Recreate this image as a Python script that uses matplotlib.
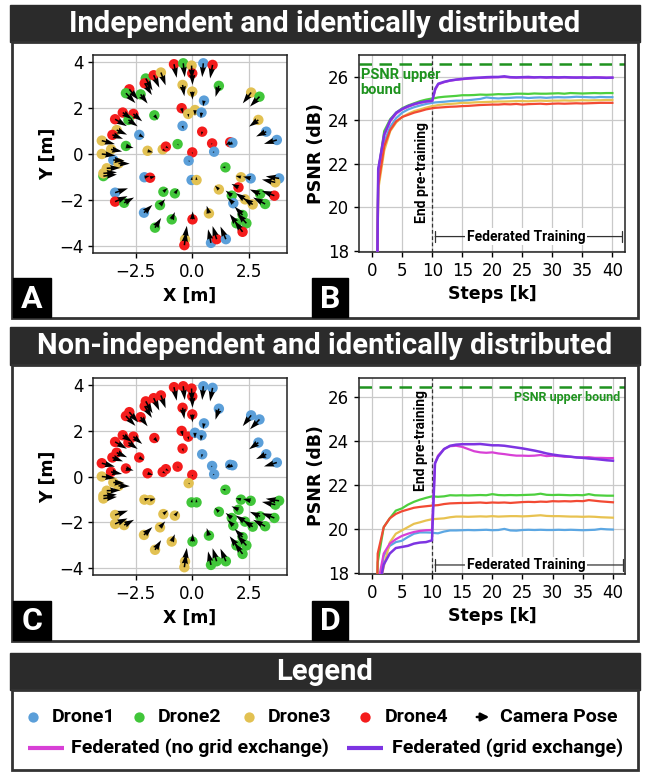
import matplotlib
matplotlib.use('Agg')
import matplotlib.pyplot as plt
from matplotlib.patches import Rectangle

W, H = 649, 772

# ---------------- camera poses (same positions in both splits) ----------------
cam_x = [-0.81, -0.40, -0.03, 0.00, 0.49, 0.90, 1.18, -0.43, 0.00, 0.52,
         -2.06, -2.11, -1.71, -1.39, -2.79, -2.94, -2.29,
         -3.42, -3.08, -2.61, -2.83, -3.35, -3.54, -4.01, -4.01, -3.60, -3.50,
         -3.27, -3.79, -3.94, -3.94, -2.94,
         -1.68, -2.35, -1.98, -1.31, -1.17, -0.65, -0.47, -0.18, 0.12, 0.41,
         -0.43, 0.44, 0.88, 0.97, 1.68, 1.78, 0.00, -0.16, -0.03, 0.19, 1.47,
         -2.12, -1.87, -3.42, -3.42, -3.02, -1.28, -0.77, -1.43, -2.14, -1.65, -0.91,
         0.01, 0.74, -0.32, -0.35, 0.83, 1.08, 1.49,
         1.18, 2.05, 1.75, 1.82, 2.16, 2.59, 2.34, 2.68, 3.01, 3.23, 3.64, 3.85,
         3.68, 2.23, 2.40, 2.23, 1.96,
         2.61, 2.98, 2.93, 3.28, 3.75]
cam_y = [3.90, 3.94, 3.84, 3.50, 3.94, 3.87, 2.96, 3.00, 2.71, 2.32,
         3.28, 3.07, 3.42, 3.54, 2.81, 2.64, 2.59,
         1.51, 1.80, 1.74, 1.48, 1.04, 0.83, 0.58, 0.00, 0.20, -0.26,
         -0.41, -0.62, -0.96, -0.84, 0.35,
         1.68, 0.83, 0.14, 0.20, 0.32, 0.43, 1.99, 1.74, 1.91, 1.80,
         1.22, 0.97, 0.46, 0.10, 0.51, 0.49, 0.07, -0.29, -1.13, -1.13, -0.58,
         -1.01, -1.03, -1.68, -2.07, -2.12, -1.64, -1.71, -2.22, -2.55, -3.20, -2.84,
         -2.84, -2.58, -3.71, -3.96, -3.86, -3.70, -3.70,
         -1.54, -1.45, -1.81, -2.14, -1.01, -1.06, -1.97, -2.19, -1.74, -2.17, -1.81, -1.06,
         -1.23, -2.65, -3.01, -3.38, -3.01,
         2.67, 2.49, 1.48, 0.97, 0.61]
cam_u = [0.12, 0.07, 0.02, 0.01, -0.05, -0.11, -0.15, 0.08, 0.01, -0.04,
         0.30, 0.32, 0.25, 0.21, 0.39, 0.42, 0.31,
         0.52, 0.41, 0.39, 0.41, 0.46, 0.47, 0.58, 0.60, 0.49, 0.50,
         0.50, 0.60, 0.60, 0.60, 0.34,
         0.16, 0.22, 0.24, 0.13, 0.13, 0.05, 0.06, 0.02, 0.00, -0.03,
         0.04, -0.03, -0.05, -0.07, -0.21, -0.21, 0.01, 0.06, 0.03, -0.02, -0.15,
         0.24, 0.24, 0.57, 0.55, 0.44, 0.19, 0.15, 0.23, 0.37, 0.27, 0.14,
         0.01, -0.10, 0.08, 0.08, -0.13, -0.18, -0.24,
         -0.18, -0.31, -0.27, -0.25, -0.24, -0.34, -0.42, -0.42, -0.46, -0.53, -0.56, -0.59,
         -0.59, -0.35, -0.41, -0.36, -0.30,
         -0.37, -0.42, -0.41, -0.45, -0.57]
cam_v = [-0.59, -0.60, -0.60, -0.50, -0.60, -0.59, -0.48, -0.49, -0.35, -0.25,
         -0.52, -0.51, -0.54, -0.56, -0.45, -0.43, -0.40,
         -0.30, -0.29, -0.32, -0.28, -0.20, -0.17, -0.15, -0.07, -0.09, -0.03,
         -0.01, 0.02, 0.07, 0.05, -0.09,
         -0.19, -0.12, -0.07, -0.07, -0.08, -0.06, -0.24, -0.15, -0.25, -0.25,
         -0.14, -0.15, -0.06, -0.05, -0.13, -0.12, -0.08, -0.05, 0.15, 0.15, 0.01,
         0.06, 0.06, 0.19, 0.24, 0.23, 0.16, 0.20, 0.26, 0.34, 0.42, 0.32,
         0.35, 0.33, 0.59, 0.59, 0.59, 0.57, 0.55,
         0.17, 0.15, 0.22, 0.24, 0.06, 0.08, 0.27, 0.27, 0.20, 0.28, 0.21, 0.09,
         0.12, 0.36, 0.44, 0.48, 0.40,
         -0.47, -0.43, -0.29, -0.21, -0.17]
drone_iid = [4, 2, 3, 4, 1, 4, 2, 3, 3, 1,
             2, 4, 4, 3, 4, 2, 2,
             4, 4, 4, 2, 3, 4, 3, 3, 3, 1,
             3, 3, 2, 3, 2,
             2, 1, 3, 3, 4, 2, 4, 3, 3, 1,
             1, 4, 4, 1, 4, 1, 4, 1, 1, 3, 2,
             1, 4, 1, 4, 2, 2, 2, 2, 1, 2, 2,
             4, 3, 3, 4, 1, 4, 1,
             3, 4, 2, 1, 3, 1, 3, 3, 2, 2, 4, 1,
             3, 2, 2, 4, 2,
             3, 2, 3, 1, 1]
drone_noniid = [4, 4, 4, 4, 1, 1, 1, 4, 4, 1,
                4, 4, 4, 4, 4, 4, 4,
                4, 4, 4, 4, 4, 4, 4, 3, 4, 3,
                3, 3, 3, 3, 4,
                4, 4, 4, 4, 4, 4, 4, 4, 1, 1,
                4, 1, 1, 1, 1, 1, 4, 3, 2, 2, 2,
                3, 3, 3, 3, 3, 3, 3, 3, 3, 3, 3,
                2, 2, 3, 3, 2, 2, 2,
                2, 2, 2, 2, 2, 2, 2, 2, 2, 2, 2, 2,
                2, 2, 2, 2, 2,
                1, 1, 1, 1, 1]

# ---------------- PSNR curves ----------------
steps = [0.6, 1, 2, 3, 4, 5, 6, 7, 8, 9, 10, 10.5,
         11, 12, 13, 14, 15, 16, 17, 18, 19, 20,
         21, 22, 23, 24, 25, 26, 27, 28, 29, 30,
         31, 32, 33, 34, 35, 36, 37, 38, 39, 40]

iid_drone1 = [10.0, 21.2, 23.0, 23.7, 24.1, 24.35, 24.5, 24.6, 24.68, 24.75, 24.8, 24.82,
              24.83, 24.85, 24.88, 24.9, 24.9, 24.92, 24.95, 24.98, 25.05, 25.02,
              25.0, 25.02, 25.03, 25.05, 25.05, 25.02, 25.04, 25.05, 25.03, 25.05,
              25.06, 25.05, 25.06, 25.08, 25.07, 25.06, 25.05, 25.07, 25.06, 25.06]
iid_drone2 = [10.0, 21.6, 23.5, 24.05, 24.35, 24.55, 24.68, 24.78, 24.88, 24.95, 25.0, 25.02,
              25.05, 25.08, 25.1, 25.12, 25.15, 25.15, 25.16, 25.18, 25.17, 25.18,
              25.2, 25.19, 25.2, 25.22, 25.22, 25.21, 25.23, 25.22, 25.22, 25.23,
              25.24, 25.22, 25.25, 25.24, 25.23, 25.24, 25.25, 25.24, 25.25, 25.25]
iid_drone3 = [10.0, 20.8, 22.6, 23.5, 23.9, 24.15, 24.3, 24.42, 24.5, 24.58, 24.65, 24.67,
              24.7, 24.73, 24.75, 24.77, 24.8, 24.8, 24.82, 24.83, 24.84, 24.85,
              24.86, 24.86, 24.87, 24.88, 24.88, 24.87, 24.89, 24.9, 24.89, 24.9,
              24.9, 24.91, 24.9, 24.91, 24.92, 24.91, 24.92, 24.92, 24.93, 24.93]
iid_drone4 = [10.0, 21.0, 22.8, 23.55, 23.95, 24.15, 24.25, 24.35, 24.42, 24.5, 24.55, 24.57,
              24.58, 24.6, 24.62, 24.63, 24.65, 24.66, 24.68, 24.7, 24.71, 24.72,
              24.72, 24.74, 24.73, 24.75, 24.72, 24.74, 24.75, 24.76, 24.74, 24.76,
              24.77, 24.76, 24.77, 24.78, 24.77, 24.78, 24.79, 24.8, 24.8, 24.8]
iid_fed_nogrid = [10.0, 21.7, 23.3, 23.95, 24.3, 24.5, 24.62, 24.72, 24.8, 24.85, 24.88, 25.4,
                  25.65, 25.75, 25.82, 25.86, 25.89, 25.91, 25.93, 25.95, 25.96, 25.97,
                  25.98, 25.99, 25.97, 25.96, 25.97, 25.96, 25.97, 25.98, 25.96, 25.97,
                  25.96, 25.97, 25.96, 25.97, 25.96, 25.95, 25.96, 25.97, 25.96, 25.96]
iid_fed_grid = [10.0, 21.75, 23.35, 24.0, 24.35, 24.52, 24.65, 24.75, 24.82, 24.87, 24.9, 25.45,
                25.68, 25.77, 25.83, 25.87, 25.9, 25.93, 25.95, 25.96, 25.98, 25.99,
                25.99, 26.02, 25.98, 25.97, 25.98, 25.99, 25.97, 25.98, 25.97, 25.98,
                25.97, 25.98, 25.97, 25.96, 25.97, 25.96, 25.97, 25.96, 25.95, 25.96]

non_drone1 = [12.0, 16.5, 18.8, 19.25, 19.42, 19.48, 19.65, 19.8, 19.86, 19.86, 19.85, 19.83,
              19.82, 19.9, 19.95, 19.95, 19.96, 19.97, 19.96, 19.97, 19.98, 19.96,
              19.97, 20.02, 19.95, 19.94, 19.97, 19.98, 19.97, 19.98, 19.97, 19.97,
              19.98, 19.97, 19.98, 19.97, 19.96, 19.97, 19.98, 20.02, 20.0, 19.99]
non_drone2 = [12.0, 18.5, 20.1, 20.5, 20.85, 20.95, 21.12, 21.25, 21.35, 21.43, 21.5, 21.49,
              21.48, 21.5, 21.55, 21.54, 21.55, 21.54, 21.55, 21.56, 21.55, 21.6,
              21.56, 21.55, 21.56, 21.55, 21.56, 21.57, 21.58, 21.62, 21.57, 21.56,
              21.57, 21.56, 21.55, 21.56, 21.55, 21.6, 21.55, 21.54, 21.53, 21.53]
non_drone3 = [12.0, 17.0, 18.3, 19.4, 19.8, 19.95, 20.1, 20.25, 20.32, 20.4, 20.46, 20.47,
              20.48, 20.5, 20.55, 20.58, 20.58, 20.57, 20.58, 20.59, 20.58, 20.6,
              20.58, 20.59, 20.6, 20.6, 20.59, 20.6, 20.62, 20.64, 20.61, 20.6,
              20.6, 20.59, 20.58, 20.58, 20.57, 20.58, 20.57, 20.55, 20.54, 20.53]
non_drone4 = [12.0, 18.9, 20.1, 20.5, 20.7, 20.82, 20.9, 20.98, 21.02, 21.05, 21.08, 21.09,
              21.1, 21.15, 21.18, 21.19, 21.2, 21.2, 21.21, 21.22, 21.2, 21.22,
              21.21, 21.22, 21.2, 21.22, 21.24, 21.25, 21.24, 21.26, 21.25, 21.28,
              21.27, 21.28, 21.27, 21.29, 21.28, 21.33, 21.3, 21.27, 21.25, 21.23]
non_fed_nogrid = [12.0, 17.5, 18.9, 19.35, 19.55, 19.7, 19.8, 19.88, 19.93, 19.96, 19.97, 23.0,
                  23.35, 23.65, 23.78, 23.8, 23.75, 23.65, 23.55, 23.5, 23.48, 23.5,
                  23.45, 23.42, 23.38, 23.35, 23.35, 23.34, 23.35, 23.38, 23.33, 23.35,
                  23.33, 23.3, 23.3, 23.27, 23.27, 23.28, 23.25, 23.25, 23.24, 23.24]
non_fed_grid = [12.0, 17.0, 18.4, 18.9, 19.15, 19.2, 19.25, 19.35, 19.4, 19.42, 19.5, 23.0,
                23.3, 23.65, 23.8, 23.85, 23.87, 23.87, 23.87, 23.88, 23.85, 23.82,
                23.82, 23.8, 23.76, 23.72, 23.68, 23.63, 23.58, 23.52, 23.45, 23.4,
                23.36, 23.33, 23.3, 23.27, 23.25, 23.22, 23.2, 23.17, 23.14, 23.12]

psnr_upper_iid = 26.57
psnr_upper_non = 26.47
end_pretraining = 10

legend_drones = ['Drone1', 'Drone2', 'Drone3', 'Drone4']
legend_fed = ['Federated (no grid exchange)', 'Federated (grid exchange)']

dot_colors = {1: '#5b9fd9', 2: '#41c63a', 3: '#e2c152', 4: '#f41c1c'}
line_colors = {1: '#5ca7e3', 2: '#4dcf3e', 3: '#e8c250', 4: '#f24a33'}
col_nogrid = '#d840d6'
col_grid = '#7d34e2'
green_dash = '#1f931f'
DARK = '#2b2b2b'

plt.rcParams['font.family'] = ['DejaVu Sans']
fig = plt.figure(figsize=(W / 100, H / 100), dpi=100)

# background / decoration axes in pixel coordinates
bg = fig.add_axes([0, 0, 1, 1], zorder=0)
bg.set_xlim(0, W)
bg.set_ylim(H, 0)
bg.axis('off')


def box(x0, y0, x1, y1, **kw):
    bg.add_patch(Rectangle((x0, y0), x1 - x0, y1 - y0, **kw))


HF = dict(family='Roboto', fontweight='bold', color='white', ha='center', va='center')
# panel 1
box(10, 5, 640, 42, facecolor=DARK, edgecolor=DARK)
bg.text(325, 24, 'Independent and identically distributed', fontsize=21, **HF)
box(12, 42, 638, 318, facecolor='white', edgecolor='#333333', lw=2)
# panel 2
box(10, 327, 640, 365, facecolor=DARK, edgecolor=DARK)
bg.text(325, 346, 'Non-independent and identically distributed', fontsize=21, **HF)
box(12, 365, 638, 641, facecolor='white', edgecolor='#333333', lw=2)
# legend
box(10, 653, 640, 690, facecolor=DARK, edgecolor=DARK)
bg.text(325, 672, 'Legend', fontsize=21, **HF)
box(12, 690, 638, 770, facecolor='white', edgecolor='#333333', lw=2)

# panel letters
for lab, (x0, y0, x1, y1) in zip('ABCD', [(13, 278, 51, 317), (312, 278, 348, 317),
                                         (13, 601, 51, 640), (312, 601, 348, 640)]):
    box(x0, y0, x1, y1, facecolor='black', edgecolor='black')
    bg.text((x0 + x1) / 2, (y0 + y1) / 2 + 1, lab, fontsize=23, family='Roboto',
            fontweight='bold', color='white', ha='center', va='center')

# legend content
LF = dict(family='Roboto', fontweight='bold', fontsize=14, color='black', va='center', ha='left')
row1, row2 = 717, 748
dot_x = [33, 139, 249, 365]
txt_x = [52, 158, 268, 385]
for d, name, dx, tx in zip([1, 2, 3, 4], legend_drones, dot_x, txt_x):
    bg.scatter([dx], [row1], s=55, color=dot_colors[d], linewidths=0)
    bg.text(tx, row1, name, **LF)
bg.annotate('', xy=(492, row1), xytext=(474, row1),
            arrowprops=dict(arrowstyle='-|>', color='black', lw=1.8, mutation_scale=12))
bg.text(500, row1, 'Camera Pose', **LF)
bg.plot([28, 64], [row2, row2], color=col_nogrid, lw=3, solid_capstyle='butt')
bg.text(71, row2, legend_fed[0], **LF)
bg.plot([347, 383], [row2, row2], color=col_grid, lw=3, solid_capstyle='butt')
bg.text(392, row2, legend_fed[1], **LF)


def px_axes(x0, y0, x1, y1):
    return fig.add_axes([x0 / W, 1 - y1 / H, (x1 - x0) / W, (y1 - y0) / H], zorder=2)


def style_ax(ax):
    ax.tick_params(labelsize=12, length=3.5, width=1, colors='black')
    for s in ax.spines.values():
        s.set_linewidth(1.1)
        s.set_color('#222222')
    ax.grid(True, color='#c9c9c9', lw=0.9)
    ax.set_axisbelow(True)


def scatter_panel(ax, drones):
    cols = [dot_colors[d] for d in drones]
    ax.scatter(cam_x, cam_y, s=56, c=cols, linewidths=0, zorder=3)
    ax.quiver(cam_x, cam_y, cam_u, cam_v, angles='xy', scale_units='xy', scale=1,
              color='black', width=0.008, headwidth=4, headlength=6.5, headaxislength=6,
              zorder=4)
    ax.set_xlim(-4.4, 4.2)
    ax.set_ylim(-4.3, 4.3)
    ax.set_xticks([-2.5, 0.0, 2.5])
    ax.set_yticks([-4, -2, 0, 2, 4])
    style_ax(ax)
    ax.set_xlabel('X [m]', fontsize=12.5, fontweight='bold', labelpad=4)
    ax.set_ylabel('Y [m]', fontsize=12.5, fontweight='bold', labelpad=1)


AF = dict(family='Roboto', fontweight='bold')


def psnr_panel(ax, d1, d2, d3, d4, fng, fg, upper, xlim, ylim, iid):
    for d, vals in zip([1, 2, 3, 4], [d1, d2, d3, d4]):
        ax.plot(steps, vals, color=line_colors[d], lw=1.6, zorder=3)
    ax.plot(steps, fng, color=col_nogrid, lw=1.6, zorder=4)
    ax.plot(steps, fg, color=col_grid, lw=1.8, zorder=5)
    ax.axhline(upper, color=green_dash, lw=1.8, ls=(0, (5, 3)), zorder=2)
    ax.axvline(end_pretraining, color='#333333', lw=0.9, ls=(0, (3, 2)), zorder=2)
    ax.set_xlim(*xlim)
    ax.set_ylim(*ylim)
    ax.set_xticks(range(0, 41, 5))
    ax.set_yticks([18, 20, 22, 24, 26])
    style_ax(ax)
    ax.set_xlabel('Steps [k]', fontsize=12.5, fontweight='bold', labelpad=4)
    ax.set_ylabel('PSNR (dB)', fontsize=12.5, fontweight='bold', labelpad=2)
    # federated training span
    fy = 18.65 if iid else 18.38
    ax.annotate('', xy=(41.6, fy), xytext=(10.5, fy),
                arrowprops=dict(arrowstyle='|-|', color='#333333', lw=0.9,
                                mutation_scale=4, shrinkA=0, shrinkB=0), zorder=6)
    ax.text(25.6, fy, 'Federated Training', ha='center', va='center', zorder=7, fontsize=10,
            bbox=dict(facecolor='white', edgecolor='none', pad=1.0), **AF)
    if iid:
        ax.text(9.4, 21.6, 'End pre-training', rotation=90, ha='right', va='center', zorder=7,
                fontsize=10, **AF)
        ax.text(-1.95, 26.42, 'PSNR upper\nbound', color=green_dash, ha='left', va='top',
                linespacing=1.15, zorder=7, fontsize=10.5, **AF)
    else:
        ax.text(9.4, 26.35, 'End pre-training', rotation=90, ha='right', va='top', zorder=7,
                fontsize=10, **AF)
        ax.text(41.2, 26.0, 'PSNR upper bound', color=green_dash, ha='right', va='center',
                zorder=7, fontsize=9, **AF)


axA = px_axes(93, 55, 287, 253)
scatter_panel(axA, drone_iid)
axB = px_axes(359, 55, 625, 252)
psnr_panel(axB, iid_drone1, iid_drone2, iid_drone3, iid_drone4, iid_fed_nogrid, iid_fed_grid,
           psnr_upper_iid, (-2.2, 42.1), (17.94, 27.0), True)
axC = px_axes(93, 378, 287, 575)
scatter_panel(axC, drone_noniid)
axD = px_axes(359, 378, 625, 574)
psnr_panel(axD, non_drone1, non_drone2, non_drone3, non_drone4, non_fed_nogrid, non_fed_grid,
           psnr_upper_non, (-2.1, 42.0), (17.97, 26.88), False)

fig.savefig('out.png', dpi=100)
